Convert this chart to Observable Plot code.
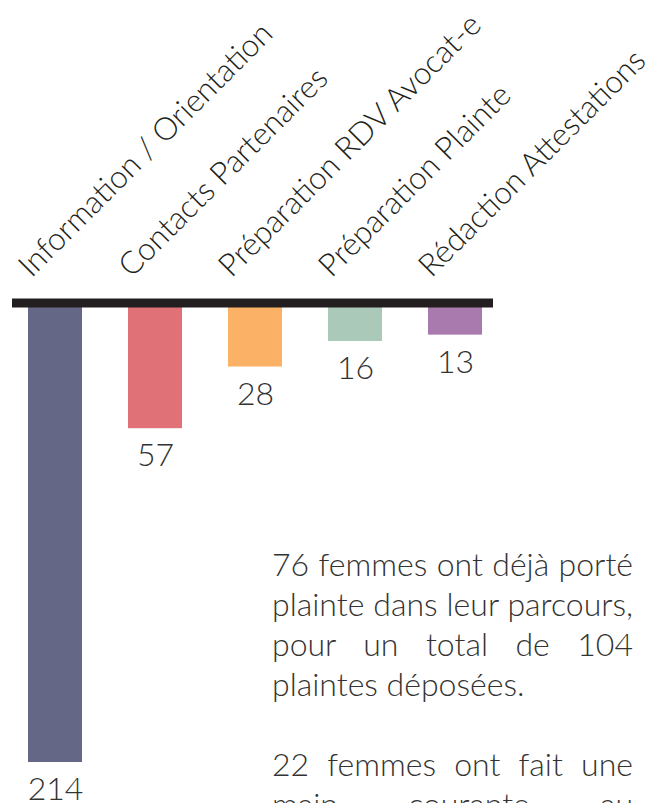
<!DOCTYPE html>
<html><head><meta charset="utf-8">
<script src="https://cdn.jsdelivr.net/npm/d3@7"></script>
<script src="https://cdn.jsdelivr.net/npm/@observablehq/plot@0.6"></script>
<style>
html,body{margin:0;padding:0;background:#fff;width:659px;height:803px;overflow:hidden;}
#wrap{position:relative;width:659px;height:803px;overflow:hidden;}
#note{position:absolute;left:272px;top:544px;width:361px;font-family:Lato,sans-serif;font-weight:300;font-size:32px;line-height:40px;color:#333;text-align:justify;}
#note p{margin:0 0 40px 0;}
</style></head>
<body><div id="wrap"><div id="chart"></div>
<div id="note"><p>76 femmes ont déjà porté plainte dans leur parcours, pour un total de 104 plaintes déposées.</p><p>22 femmes ont fait une main courante au commissariat.</p></div></div>
<script>
const categories = ["Information / Orientation","Contacts Partenaires","Préparation RDV Avocat-e","Préparation Plainte","Rédaction Attestations"];
const values = [214, 57, 28, 16, 13];
const colors = ["#646886","#e07277","#fbb266","#abc9b8","#a97aad"];
const data = categories.map((c,i)=>({cat:c, value:values[i], color:colors[i]}));

const chart = Plot.plot({
  width: 659, height: 803,
  marginLeft: 12, marginRight: 166, marginTop: 0, marginBottom: 0,
  x: {domain: categories, range: [28, 482], paddingInner: 0.46, paddingOuter: 0, axis: null},
  y: {domain: [0, 214], range: [307, 762], axis: null},
  style: {fontFamily: "Lato, sans-serif", overflow: "visible"},
  marks: [
    Plot.barY(data, {x: "cat", y1: 0, y2: "value", fill: "color"}),
    Plot.ruleY([0], {stroke: "#231f20", strokeWidth: 9, dy: -4.5}),
    Plot.text(data, {x: "cat", y: "value", text: d => String(d.value), lineAnchor: "top", dy: 15, fontSize: 32, fontWeight: 300, fill: "#333"}),
    Plot.text(data, {x: "cat", y: 0, text: "cat", rotate: -45, textAnchor: "start", lineAnchor: "bottom", dx: -24, dy: -29, fontSize: 31.5, fontWeight: 300, fill: "#231f20"})
  ]
});
document.getElementById("chart").appendChild(chart);
</script></body></html>
